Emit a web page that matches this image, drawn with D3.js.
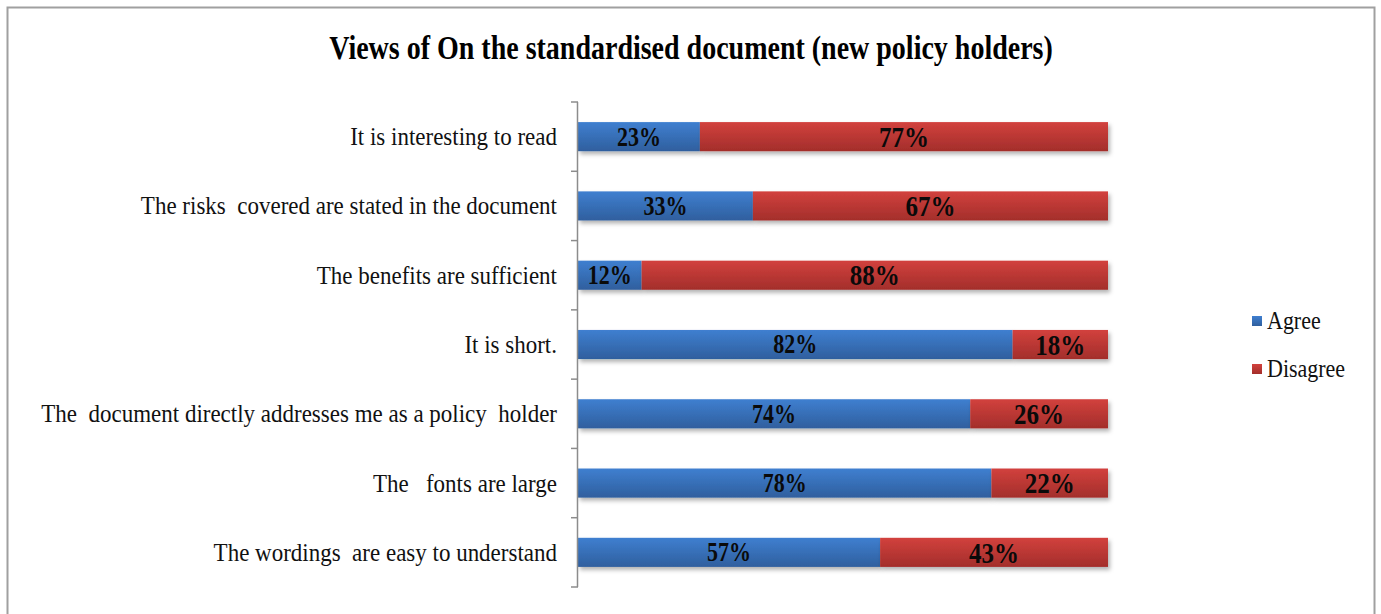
<!DOCTYPE html>
<html>
<head>
<meta charset="utf-8">
<script src="https://cdn.jsdelivr.net/npm/d3@7"></script>
<style>
  body { margin: 0; background: #fff; }
  svg { display: block; font-family: "Liberation Serif", "DejaVu Serif", serif; }
</style>
</head>
<body>
<div id="chart"></div>
<script>
// survey statements, top to bottom
const categories = [
    "It is interesting to read",
    "The risks  covered are stated in the document",
    "The benefits are sufficient",
    "It is short.",
    "The  document directly addresses me as a policy  holder",
    "The   fonts are large",
    "The wordings  are easy to understand"
];
const agreeValues = [23, 33, 12, 82, 74, 78, 57];
const disagreeValues = [77, 67, 88, 18, 26, 22, 43];
const seriesNames = ["Agree", "Disagree"];
const seriesColors = {"Agree": ["#3f7fd0", "#2f5f9e"], "Disagree": ["#d2413d", "#a32e2b"]};
// the original export is stretched a bit vertically
const labelSize = {"Agree": 22, "Disagree": 25};

const w = 1381, h = 614;
const margin = {left: 578, right: 273, top: 102, bottom: 27};
const width = w - margin.left - margin.right,
      height = h - margin.top - margin.bottom;

let svg = d3.select("#chart")
    .append("svg")
    .attr("width", w)
    .attr("height", h);

let defs = svg.append("defs");
seriesNames.forEach(function (s, i) {
    let grad = defs.append("linearGradient")
        .attr("id", "grad" + i)
        .attr("x1", 0).attr("y1", 0).attr("x2", 0).attr("y2", 1);
    grad.append("stop").attr("offset", "0%").attr("stop-color", seriesColors[s][0]);
    grad.append("stop").attr("offset", "100%").attr("stop-color", seriesColors[s][1]);
});
let shadow = defs.append("filter").attr("id", "shadow")
    .attr("x", "-5%").attr("y", "-30%").attr("width", "110%").attr("height", "180%");
shadow.append("feDropShadow")
    .attr("dx", 2).attr("dy", 3).attr("stdDeviation", 2)
    .attr("flood-color", "#000").attr("flood-opacity", 0.3);

// outer frame
svg.append("rect")
    .attr("x", 7.5).attr("y", 7.5)
    .attr("width", 1367).attr("height", 620)
    .attr("fill", "none")
    .attr("stroke", "#a0a0a0")
    .attr("stroke-width", 2);

svg.append("text")
    .attr("transform", "translate(691,59) scale(1,1.22)")
    .attr("text-anchor", "middle")
    .style("font-size", "28px")
    .style("font-weight", "bold")
    .text("Views of On the standardised document (new policy holders)");

let g = svg.append("g")
    .attr("transform", "translate(" + margin.left + "," + margin.top + ")");

let y = d3.scaleBand()
    .domain(categories)
    .range([0, height])
    .paddingInner(0.58)
    .paddingOuter(0.29);

let x = d3.scaleLinear()
    .domain([0, 100])
    .range([0, width]);

let stacked = categories.map(function (c, i) {
    return {cat: c, Agree: agreeValues[i], Disagree: disagreeValues[i]};
});
let series = d3.stack().keys(seriesNames)(stacked);

let layers = g.selectAll(".layer")
    .data(series)
    .enter().append("g")
    .attr("class", "layer")
    .attr("filter", "url(#shadow)");

layers.selectAll("rect")
    .data(function (d, i) { return d.map(function (p) { return {p: p, i: i}; }); })
    .enter().append("rect")
    .attr("x", function (d) { return x(d.p[0]); })
    .attr("y", function (d) { return y(d.p.data.cat); })
    .attr("width", function (d) { return x(d.p[1]) - x(d.p[0]); })
    .attr("height", y.bandwidth())
    .attr("fill", function (d) { return "url(#grad" + d.i + ")"; });

// value labels
series.forEach(function (s) {
    g.selectAll(".lbl-" + s.key)
        .data(s)
        .enter().append("text")
        .attr("transform", function (d) {
            let cx = (x(d[0]) + x(d[1])) / 2,
                cy = y(d.data.cat) + y.bandwidth() / 2;
            return "translate(" + cx + "," + cy + ") scale(1,1.2)";
        })
        .attr("dy", "0.34em")
        .attr("text-anchor", "middle")
        .style("font-size", labelSize[s.key] + "px")
        .style("font-weight", "bold")
        .attr("fill", "#0a0a0a")
        .text(function (d) { return (d[1] - d[0]) + "%"; });
});

// category axis with ticks between bands
g.append("line")
    .attr("x1", -0.5).attr("x2", -0.5)
    .attr("y1", 0).attr("y2", height)
    .attr("stroke", "#8c8c8c")
    .attr("stroke-width", 1.5);

let bounds = categories.map(function (c) { return y(c) - y.step() * y.paddingInner() / 2; });
bounds.push(height);
bounds[0] = 0;
g.selectAll(".tick-line")
    .data(bounds)
    .enter().append("line")
    .attr("x1", -7).attr("x2", 0)
    .attr("y1", function (d) { return d; })
    .attr("y2", function (d) { return d; })
    .attr("stroke", "#8c8c8c")
    .attr("stroke-width", 1.5);

g.selectAll(".cat-label")
    .data(categories)
    .enter().append("text")
    .attr("transform", function (d) {
        return "translate(-21," + (y(d) + y.bandwidth() / 2) + ") scale(1,1.08)";
    })
    .attr("dy", "0.34em")
    .attr("text-anchor", "end")
    .style("font-size", "23px")
    .style("white-space", "pre")
    .attr("fill", "#111")
    .text(function (d) { return d; });

// legend
let legend = svg.append("g")
    .attr("transform", "translate(1252,321)");
seriesNames.forEach(function (s, i) {
    legend.append("rect")
        .attr("x", 0)
        .attr("y", i * 48 - 5)
        .attr("width", 10)
        .attr("height", 10)
        .attr("fill", "url(#grad" + i + ")");
    legend.append("text")
        .attr("transform", "translate(15," + (i * 48) + ") scale(1,1.1)")
        .attr("dy", "0.34em")
        .style("font-size", "22px")
        .attr("fill", "#111")
        .text(s);
});
</script>
</body>
</html>
